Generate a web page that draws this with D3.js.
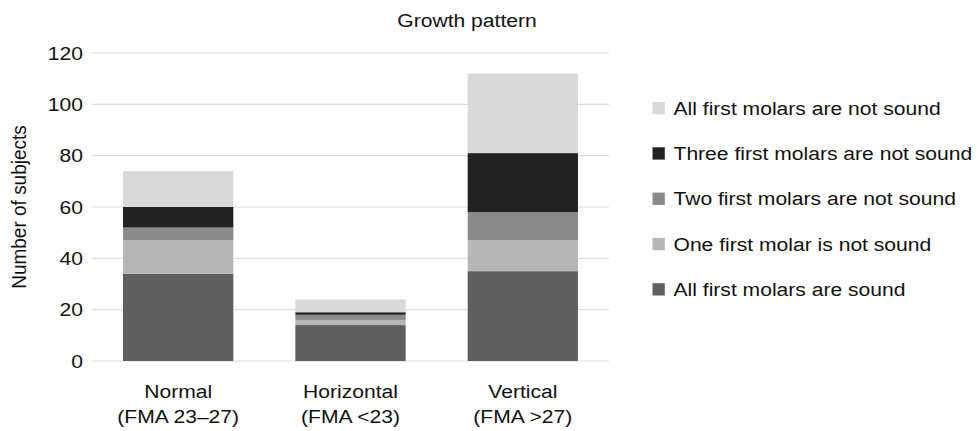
<!DOCTYPE html>
<html>
<head>
<meta charset="utf-8">
<script src="https://cdn.jsdelivr.net/npm/d3@7"></script>
<style>
  body { margin: 0; background: #fff; }
  svg { display: block; font-family: "Liberation Sans", Arial, sans-serif; }
</style>
</head>
<body>
<svg id="chart" width="979" height="431"></svg>
<script>
const categories = [["Normal", "(FMA 23–27)"], ["Horizontal", "(FMA <23)"], ["Vertical", "(FMA >27)"]];
const seriesNames = [
  "All first molars are sound",
  "One first molar is not sound",
  "Two first molars are not sound",
  "Three first molars are not sound",
  "All first molars are not sound"
];
const allSound = [34, 14, 35];
const oneNotSound = [13, 2, 12];
const twoNotSound = [5, 2, 11];
const threeNotSound = [8, 1, 23];
const allNotSound = [14, 5, 31];
const yTicks = [0, 20, 40, 60, 80, 100, 120];
const colors = ["#5f5f5f", "#b5b6b5", "#8a8a8a", "#222222", "#d9d9d9"];
const title = "Growth pattern";
const yLabel = "Number of subjects";

const FS = 19, SX = 1.11, TXT = "#111";

const seriesValues = [allSound, oneNotSound, twoNotSound, threeNotSound, allNotSound];
const rows = categories.map((c, i) => {
  const r = { key: i };
  seriesNames.forEach((s, j) => r[s] = seriesValues[j][i]);
  return r;
});
const stacked = d3.stack().keys(seriesNames)(rows);

const svg = d3.select("#chart");
const margin = { left: 92, right: 370, top: 53, bottom: 70 };
const W = 979, H = 431;
const x = d3.scaleBand().domain(categories.map((c, i) => i)).range([margin.left, W - margin.right])
  .paddingInner(0.36).paddingOuter(0.18);
const y = d3.scaleLinear().domain([0, 120]).range([H - margin.bottom, margin.top]);
const color = d3.scaleOrdinal().domain(seriesNames).range(colors);

// gridlines
svg.append("g").selectAll("line").data(yTicks).join("line")
  .attr("x1", margin.left).attr("x2", W - margin.right)
  .attr("y1", d => y(d)).attr("y2", d => y(d))
  .attr("stroke", "#dcdcdc").attr("stroke-width", 1.2);

// y axis
const yAxis = svg.append("g").attr("transform", `translate(${margin.left},0)`)
  .call(d3.axisLeft(y).tickValues(yTicks).tickSize(0).tickPadding(8.2));
yAxis.select(".domain").remove();
yAxis.selectAll("text").attr("font-size", FS).attr("fill", TXT)
  .style("font-family", "Liberation Sans, Arial, sans-serif")
  .attr("transform", `scale(${SX},1)`);

// bars
svg.append("g").selectAll("g").data(stacked).join("g")
  .attr("fill", d => color(d.key))
  .selectAll("rect").data(d => d).join("rect")
  .attr("x", d => x(d.data.key))
  .attr("width", x.bandwidth())
  .attr("y", d => y(d[1]))
  .attr("height", d => y(d[0]) - y(d[1]));

// x labels
const xl = svg.append("g").selectAll("text").data(categories).join("text")
  .attr("transform", (d, i) => `translate(${x(i) + x.bandwidth() / 2},398) scale(${SX},1)`)
  .attr("text-anchor", "middle")
  .attr("font-size", FS).attr("fill", TXT);
xl.selectAll("tspan").data(d => d).join("tspan")
  .attr("x", 0)
  .attr("dy", (d, i) => i === 0 ? 0 : 25.5)
  .text(d => d);

// title
svg.append("text").attr("transform", `translate(467,26.5) scale(${SX},1)`).attr("text-anchor", "middle")
  .attr("font-size", FS).attr("fill", TXT).text(title);

// y label
svg.append("text").attr("transform", `translate(26,${(y(0) + y(120)) / 2}) scale(${SX},1) rotate(-90)`)
  .attr("text-anchor", "middle").attr("font-size", FS).attr("fill", TXT).text(yLabel);

// legend
const legendOrder = seriesNames.slice().reverse();
const lg = svg.append("g").selectAll("g").data(legendOrder).join("g")
  .attr("transform", (d, i) => `translate(652.5,${108 + i * 45.3})`);
lg.append("rect").attr("x", 0).attr("y", -6).attr("width", 12.3).attr("height", 12.3)
  .attr("fill", d => color(d));
lg.append("text").attr("transform", `translate(21,0) scale(${SX},1)`).attr("dy", "0.35em")
  .attr("font-size", FS).attr("fill", TXT).text(d => d);
</script>
</body>
</html>
